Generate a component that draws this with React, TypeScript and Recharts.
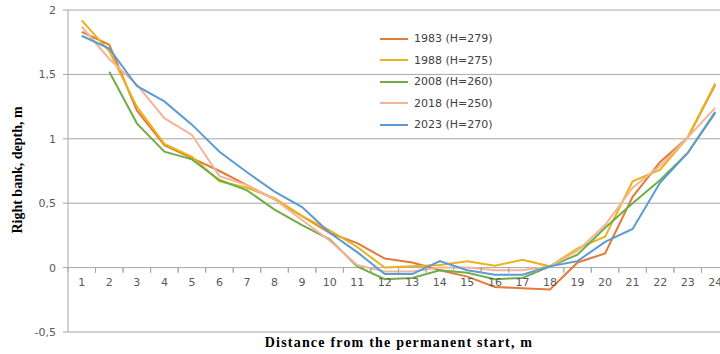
import React from "react";
import {
  LineChart,
  Line,
  XAxis,
  YAxis,
  CartesianGrid,
} from "recharts";

// distance from the permanent start, m
const distances = [1, 2, 3, 4, 5, 6, 7, 8, 9, 10, 11, 12, 13, 14, 15, 16, 17, 18, 19, 20, 21, 22, 23, 24];

// depth values per survey year
const y1983 = [1.83, 1.73, 1.22, 0.95, 0.85, 0.75, 0.64, 0.53, 0.4, 0.27, 0.19, 0.07, 0.04, -0.02, -0.07, -0.15, -0.16, -0.17, 0.04, 0.11, 0.55, 0.82, 1.01, 1.42];
const y1988 = [1.92, 1.68, 1.25, 0.96, 0.86, 0.67, 0.62, 0.54, 0.4, 0.29, 0.16, 0.0, 0.01, 0.02, 0.05, 0.015, 0.06, 0.01, 0.15, 0.24, 0.67, 0.76, 1.01, 1.43];
const y2008 = [null, 1.52, 1.12, 0.9, 0.84, 0.68, 0.6, 0.45, 0.33, 0.22, 0.01, -0.09, -0.08, -0.02, -0.04, -0.09, -0.08, 0.01, 0.1, 0.31, 0.5, 0.68, 0.89, 1.2];
const y2018 = [1.87, 1.62, 1.42, 1.16, 1.03, 0.71, 0.64, 0.53, 0.37, 0.21, 0.02, -0.03, -0.03, 0.0, 0.0, -0.02, -0.02, 0.01, 0.13, 0.33, 0.62, 0.79, 1.01, 1.24];
const y2023 = [1.8, 1.7, 1.41, 1.29, 1.11, 0.9, 0.74, 0.59, 0.47, 0.27, 0.12, -0.05, -0.05, 0.05, -0.02, -0.055, -0.055, 0.01, 0.05, 0.2, 0.3, 0.66, 0.89, 1.21];

const yTicks = [-0.5, 0, 0.5, 1, 1.5, 2];

const series = [
  { key: "s1983", name: "1983 (H=279)", values: y1983, color: "#E07B39" },
  { key: "s1988", name: "1988 (H=275)", values: y1988, color: "#E8B418" },
  { key: "s2008", name: "2008 (H=260)", values: y2008, color: "#70AD47" },
  { key: "s2018", name: "2018 (H=250)", values: y2018, color: "#F4B49A" },
  { key: "s2023", name: "2023 (H=270)", values: y2023, color: "#5B9BD5" },
];

const data = distances.map((d, i) => {
  const row: Record<string, number | null> = { distance: d };
  series.forEach((s) => {
    row[s.key] = s.values[i];
  });
  return row;
});

const TICK_FONT = "'DejaVu Sans', sans-serif";
const BAND = 27.5;
const ZERO_LIFT = 64.4; // gap between the plot bottom (-0,5) and the zero line

// category labels sit under the zero line, Excel style, with tick marks between categories
const XTick = (props: any) => {
  const { x, y, payload } = props;
  const zeroY = y - 8 - ZERO_LIFT;
  return (
    <g>
      <line x1={x - BAND / 2} x2={x - BAND / 2} y1={zeroY} y2={zeroY + 5} stroke="#a6a6a6" />
      <line x1={x + BAND / 2} x2={x + BAND / 2} y1={zeroY} y2={zeroY + 5} stroke="#a6a6a6" />
      <text x={x} y={zeroY + 18} textAnchor="middle" fontSize={11} fontFamily={TICK_FONT} fill="#595959">
        {payload.value}
      </text>
    </g>
  );
};

export default function App() {
  return (
    <div
      style={{
        position: "absolute",
        left: 0,
        top: 0,
        width: 720,
        height: 354,
        overflow: "hidden",
        background: "#fff",
      }}
    >
      <LineChart
        width={729}
        height={354}
        data={data}
        margin={{ top: 10, right: 0, bottom: 0, left: 0 }}
      >
        <CartesianGrid vertical={false} stroke="#a6a6a6" />
        <XAxis
          dataKey="distance"
          height={22}
          padding={{ left: BAND / 2, right: BAND / 2 }}
          axisLine={false}
          tickLine={false}
          tickSize={6}
          tickMargin={2}
          interval={0}
          tick={<XTick />}
        />
        <YAxis
          width={68}
          domain={[-0.5, 2]}
          ticks={yTicks}
          interval={0}
          axisLine={{ stroke: "#a6a6a6" }}
          tickLine={{ stroke: "#a6a6a6" }}
          tickSize={5}
          tickMargin={7}
          tick={{ fontSize: 11, fontFamily: TICK_FONT, fill: "#595959" }}
          tickFormatter={(v: number) => String(v).replace(".", ",")}
        />
        {series.map((s) => (
          <Line
            key={s.key}
            type="linear"
            dataKey={s.key}
            name={s.name}
            stroke={s.color}
            strokeWidth={2}
            dot={false}
            connectNulls={false}
            isAnimationActive={false}
          />
        ))}
      </LineChart>
      <div
        style={{
          position: "absolute",
          left: 380,
          top: 28,
          fontFamily: TICK_FONT,
          fontSize: 11,
          color: "#404040",
        }}
      >
        {series.map((s) => (
          <div key={s.key} style={{ display: "flex", alignItems: "center", height: 21.5 }}>
            <svg width={30} height={4} style={{ marginRight: 4 }}>
              <line x1={0} x2={28} y1={2} y2={2} stroke={s.color} strokeWidth={2} />
            </svg>
            <span>{s.name}</span>
          </div>
        ))}
      </div>
      <div
        style={{
          position: "absolute",
          left: 18,
          top: 170,
          transform: "translate(-50%, -50%) rotate(-90deg)",
          whiteSpace: "nowrap",
          fontFamily: "'Liberation Serif', serif",
          fontWeight: "bold",
          fontSize: 14,
          color: "#000",
        }}
      >
        Right bank, depth, m
      </div>
      <div
        style={{
          position: "absolute",
          left: 399,
          top: 343,
          transform: "translate(-50%, -50%)",
          whiteSpace: "nowrap",
          fontFamily: "'Liberation Serif', serif",
          fontWeight: "bold",
          fontSize: 14,
          letterSpacing: 1.2,
          color: "#000",
        }}
      >
        Distance from the permanent start, m
      </div>
    </div>
  );
}
